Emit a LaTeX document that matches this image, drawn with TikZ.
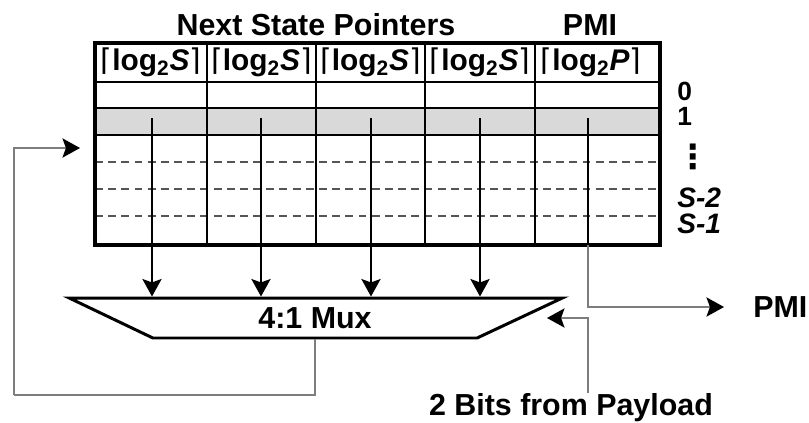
\documentclass[tikz,border=0pt]{standalone}
\usepackage{fontspec}
\setmainfont{Liberation Sans}
\newfontfamily\dejavu{DejaVu Sans}
\usepackage{tikz}
\usetikzlibrary{shapes.geometric, arrows.meta, positioning}
\definecolor{rowgray}{RGB}{217,217,217}
\definecolor{wiregray}{RGB}{125,125,125}
\definecolor{dashgray}{RGB}{85,85,85}
\newcommand{\ceilfield}[1]{{\dejavu\mdseries ⌈}log\textsubscript{2}\textit{#1}{\dejavu\mdseries ⌉}}
\tikzset{
  title/.style={inner sep=0pt, font=\bfseries\fontsize{17.3}{19}\selectfont},
  hdrcell/.style={inner sep=0pt, font=\bfseries\fontsize{17}{19}\selectfont},
  rowlabel/.style={anchor=west, inner sep=0pt, font=\bfseries\fontsize{15}{17}\selectfont},
  rowsym/.style={anchor=west, inner sep=0pt, font=\bfseries\itshape\fontsize{16}{18}\selectfont},
  muxbox/.style={trapezium, shape border rotate=180, trapezium stretches=true,
    trapezium left angle=35.5, trapezium right angle=36,
    minimum width=9.88cm, minimum height=0.8cm, inner sep=0pt,
    draw, line width=1.7pt, fill=white, font=\bfseries\fontsize{17.3}{19}\selectfont},
  arrow/.style={-{Stealth[length=10pt,width=11pt,inset=2pt,color=black]}, line width=0.7pt},
  wire/.style={line width=0.7pt, color=wiregray},
  rowline/.style={line width=0.7pt},
  dashrow/.style={line width=0.7pt, color=dashgray, dash pattern=on 4.5pt off 3pt}
}

\begin{document}
\begin{tikzpicture}[x=0.02cm, y=-0.02cm]
  \useasboundingbox (0,0) rectangle (809,423);

  % Titles above the table
  \node[title] (nsp) at (316,25) {Next State Pointers};
  \node[title] (pmititle) at (590,25) {PMI};

  % Table rows
  \fill[rowgray] (95,108) rectangle (660,135);
  \draw[rowline] (95,108) -- (660,108);
  \draw[rowline] (95,135) -- (660,135);
  \draw[dashrow] (95,162) -- (660,162);
  \draw[dashrow] (95,189) -- (660,189);
  \draw[dashrow] (95,216) -- (660,216);

  % Column dividers
  \foreach \cx in {207,316,425,535}
    \draw[rowline] (\cx,43) -- (\cx,245);
  \draw[line width=1.7pt] (95,82) -- (660,82);
  \draw[line width=2.3pt] (95,43) rectangle (660,245);

  % Field widths
  \node[hdrcell] (hs1) at (151,62.5) {\ceilfield{S}};
  \node[hdrcell] (hs2) at (261.5,62.5) {\ceilfield{S}};
  \node[hdrcell] (hs3) at (370.5,62.5) {\ceilfield{S}};
  \node[hdrcell] (hs4) at (480,62.5) {\ceilfield{S}};
  \node[hdrcell] (hp) at (591,62.5) {\ceilfield{P}};

  % Row numbers
  \node[rowlabel] (r0) at (677,91) {0};
  \node[rowlabel] (r1) at (677,116) {1};
  \node[rowlabel, font=\dejavu\bfseries\fontsize{19}{21}\selectfont] (rdots) at (676,157) {⋮};
  \node[rowsym] (rs2) at (677,198) {S-2};
  \node[rowsym] (rs1) at (677,224) {S-1};

  % Mux
  \node[muxbox] (mux) at (315,318) {4:1 Mux};

  % Pointers read out of row 1
  \foreach \i/\cx in {1/152,2/261,3/371,4/480} {
    \coordinate (p\i) at (\cx,118);
    \draw[arrow] (p\i) -- (p\i |- mux.north);
  }

  % PMI output
  \coordinate (pmisrc) at (588,118);
  \node[title, anchor=west] (pmiout) at (753,307) {PMI};
  \draw[arrow, wire] (pmisrc) |- ([xshift=-0.58cm]pmiout.west);
  \draw[rowline] (pmisrc) -- (588,245);

  % Select bits
  \node[title] (payload) at (571,408) {2 Bits from Payload};
  \coordinate (muxsel) at (547,318);
  \draw[arrow, wire] (payload.north -| pmisrc) |- (muxsel);

  % Feedback to the row select
  \coordinate (fbcorner) at (14,395);
  \coordinate (fbin) at (80,148);
  \draw[wire] (mux.south) |- (fbcorner);
  \draw[arrow, wire] (fbcorner) |- (fbin);
\end{tikzpicture}
\end{document}
